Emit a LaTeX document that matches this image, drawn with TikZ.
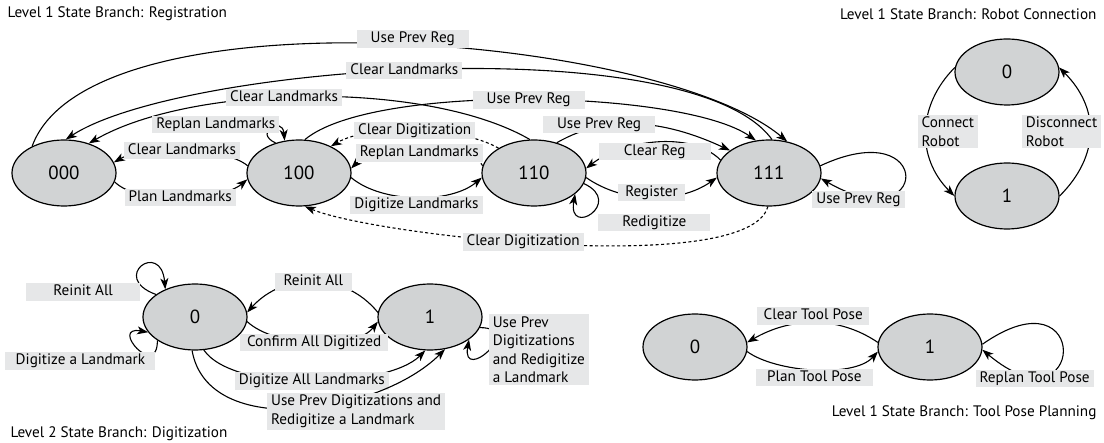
\documentclass[tikz,border=0pt]{standalone}
\usepackage{fontspec}
\setmainfont{PT Sans}
\usetikzlibrary{arrows.meta,automata,positioning,shapes.geometric}

\definecolor{stategray}{RGB}{209,211,212}
\definecolor{labelgray}{RGB}{230,231,232}

\begin{document}
\begin{tikzpicture}[->,>={Stealth[length=11pt,width=8pt,inset=3pt]},x=1pt,y=1pt,
                    line width=1.1pt,node distance=235pt]
  \tikzstyle{every state}=[ellipse,draw=black,fill=stategray,line width=1.2pt,
                           minimum width=104pt,minimum height=66pt,inner sep=0pt,
                           font=\fontsize{19}{21}\selectfont]
  \tikzstyle{lbl}=[fill=labelgray,inner xsep=4pt,inner ysep=1.5pt,minimum width=112pt,
                   text height=11pt,text depth=3.5pt,
                   font=\fontsize{15.2}{18.5}\selectfont]
  \tikzstyle{lblbox}=[fill=labelgray,align=left,inner xsep=4pt,inner ysep=2pt,
                      font=\fontsize{15.2}{18.5}\selectfont]
  \tikzstyle{branch}=[inner sep=0pt,font=\fontsize{15.2}{18.5}\selectfont]
  \tikzstyle{clear}=[dash pattern=on 3pt off 2.5pt]

  \useasboundingbox (0,0) rectangle (1104,-443);

  % registration branch
  \node[state] (reg000) at (64,-173) {000};
  \node[state] (reg100) [right of=reg000] {100};
  \node[state] (reg110) [right of=reg100] {110};
  \node[state] (reg111) [right of=reg110] {111};

  % robot connection branch
  \node[state] (rob0) at (1007,-72) {0};
  \node[state] (rob1) [below of=rob0,node distance=124pt] {1};

  % digitization branch
  \node[state] (dig0) at (195,-317) {0};
  \node[state] (dig1) [right of=dig0] {1};

  % tool pose branch
  \node[state] (tool0) at (695,-347) {0};
  \node[state] (tool1) [right of=tool0] {1};

  \node[branch,anchor=west] (regtitle) at (7,-14) {Level 1 State Branch: Registration};
  \node[branch,anchor=east] (robtitle) at (1097,-14) {Level 1 State Branch: Robot Connection};
  \node[branch,anchor=west] (digtitle) at (10,-434) {Level 2 State Branch: Digitization};
  \node[branch,anchor=east] (tooltitle) at (1097,-413) {Level 1 State Branch: Tool Pose Planning};

  \path
(reg000.140) edge [out=70,in=140,looseness=.57]  node[lbl,pos=.53,yshift=6pt] {Use Prev Reg} (reg111.60)
(reg111.85)  edge [out=126,in=33,looseness=.5]   node[lbl,pos=.53] {Clear Landmarks} (reg000.87)
(reg110.97)  edge [out=150,in=30,looseness=.69]  node[lbl,pos=.55] {Clear Landmarks} (reg000.50)
(reg100.80)  edge [out=40,in=145,looseness=.5]   node[lbl,pos=.5] {Use Prev Reg} (reg111.112)
(reg110.53)  edge [out=30,in=155,looseness=.94]  node[lbl,pos=.25,yshift=2pt] {Use Prev Reg} (reg111.150)
(reg100.128) edge [out=155,in=95,min distance=25pt] node[lbl,anchor=east,pos=.5,xshift=9pt,yshift=4pt] {Replan Landmarks} (reg100.114)
(reg100.172) edge [out=140,in=30,looseness=.6]   node[lbl,pos=.5] {Clear Landmarks} (reg000.12)
(reg000.-10) edge [out=-45,in=220,looseness=.64] node[lbl,pos=.5,minimum width=107pt] {Plan Landmarks} (reg100.187)
(reg110.145) edge [clear,out=150,in=30,looseness=.68] node[lbl,pos=.5] {Clear Digitization} (reg100.40)
(reg110.172) edge [clear,out=120,in=45,looseness=.6]  node[lbl,pos=.5,yshift=-4pt] {Replan Landmarks} (reg100.5)
(reg100.-5)  edge [out=-40,in=220,looseness=.8]  node[lbl,pos=.5,yshift=-8pt] {Digitize Landmarks} (reg110.185)
(reg111.268) edge [clear,out=255,in=-23,looseness=.41] node[lbl,pos=.55] {Clear Digitization} (reg100.280)
(reg111.165) edge [out=135,in=38,looseness=.83]  node[lbl,pos=.5,yshift=-9pt] {Clear Reg} (reg110.5)
(reg110.-5)  edge [out=-35,in=215,looseness=.9]  node[lbl,pos=.5,yshift=5pt,minimum width=67pt] {Register} (reg111.185)
(reg110.-12) edge [out=-25,in=-100,min distance=45pt] node[lbl,anchor=west,pos=.5,xshift=6pt,yshift=-10pt] {Redigitize} (reg110.-27)
(reg111.8)   edge [out=25,in=-30,min distance=127pt] node[lbl,pos=.75,xshift=-25pt,yshift=-4pt,minimum width=93pt] {Use Prev Reg} (reg111.-6)
;

  \path
(rob0.175) edge [out=225,in=135,looseness=1.07] node[lblbox,anchor=west,pos=.5,xshift=-9pt] {Connect\\Robot} (rob1.180)
(rob1.0)   edge [out=45,in=-45,looseness=1.14]  node[lblbox,anchor=east,pos=.5,xshift=12pt] {Disconnect\\Robot} (rob0.5)
;

  \path
(dig0.150) edge [out=160,in=95,min distance=50pt]   node[lbl,anchor=east,pos=.1,xshift=-4pt,yshift=-3pt,minimum width=114pt] {Reinit All} (dig0.137)
(dig0.212) edge [out=-90,in=170,min distance=40pt]  node[lbl,anchor=east,pos=.3,xshift=8pt,yshift=-6pt,minimum width=150pt] {Digitize a Landmark} (dig0.198)
(dig1.175) edge [out=129,in=48,looseness=1.05] node[lbl,pos=.5,minimum width=77pt] {Reinit All} (dig0.5)
(dig0.-5)  edge [out=-43,in=232,looseness=.74] node[lbl,pos=.5,minimum width=148pt] {Confirm All Digitized} (dig1.185)
(dig0.285) edge [out=-55,in=225,looseness=.62] node[lbl,pos=.5,minimum width=153pt] {Digitize All Landmarks} (dig1.262)
(dig0.265) edge [out=-80,in=225,looseness=.93] node[lblbox,pos=.5,xshift=56pt,yshift=-3pt] {Use Prev Digitizations and\\Redigitize a Landmark} (dig1.295)
(dig1.-12) edge [out=0,in=-100,min distance=45pt] node[lblbox,anchor=west,pos=.4,xshift=-5pt,yshift=-5pt] {Use Prev\\Digitizations\\and Redigitize\\a Landmark} (dig1.-30)
;

  \path
(tool1.175) edge [out=146,in=30,looseness=.97] node[lbl,pos=.5,yshift=7pt] {Clear Tool Pose} (tool0.5)
(tool0.-5)  edge [out=-36,in=228,looseness=.7] node[lbl,pos=.5,yshift=-8pt,minimum width=117pt] {Plan Tool Pose} (tool1.185)
(tool1.3)   edge [out=35,in=-40,min distance=135pt] node[lbl,pos=.75,xshift=-7pt,yshift=-4pt] {Replan Tool Pose} (tool1.-3)
;

\end{tikzpicture}
\end{document}
